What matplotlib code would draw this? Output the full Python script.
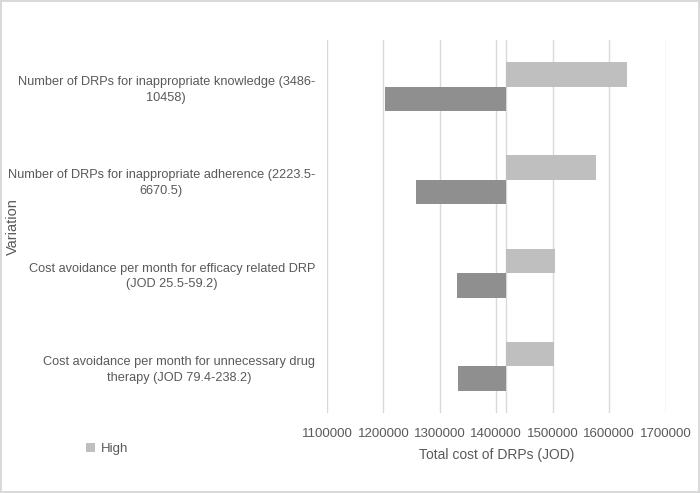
import matplotlib.pyplot as plt

# Tornado chart data (JOD)
categories = [
    "Number of DRPs for inappropriate knowledge (3486-\n10458)",
    "Number of DRPs for inappropriate adherence (2223.5-\n6670.5)",
    "Cost avoidance per month for efficacy related DRP\n(JOD 25.5-59.2)",
    "Cost avoidance per month for unnecessary drug\ntherapy (JOD 79.4-238.2)",
]
high = [1632000, 1577000, 1504000, 1502000]
low = [1203000, 1258000, 1331000, 1333000]
base = 1417000
xticks = [1100000, 1200000, 1300000, 1400000, 1500000, 1600000, 1700000]

plt.rcParams['font.family'] = ['Liberation Sans', 'DejaVu Sans']
text_color = '#595959'

fig = plt.figure(figsize=(7, 4.93), dpi=100)
fig.patch.set_edgecolor('#D9D9D9')
fig.patch.set_linewidth(1.5)
ax = fig.add_axes([0.467, 0.162, 0.484, 0.757])

ypos = list(range(len(categories)))
h = 0.263
ax.barh([y - h / 2 for y in ypos], [v - base for v in high], left=base,
        height=h, color='#BFBFBF', label='High', zorder=3)
ax.barh([y + h / 2 for y in ypos], [base - v for v in low], left=low,
        height=h, color='#8F8F8F', zorder=3)
ax.axvline(base, color='#D9D9D9', linewidth=1, zorder=2)

ax.set_xlim(1100000, 1700000)
ax.set_ylim(3.5, -0.5)
ax.set_xticks(xticks)
ax.set_xticklabels([str(t) for t in xticks])
ax.set_yticks(ypos)
ax.set_yticklabels(categories, multialignment='center', linespacing=1.4,
                   fontsize=9.2)
ax.grid(axis='x', color='#D9D9D9', linewidth=1, zorder=0)
ax.set_axisbelow(True)
for s in ax.spines.values():
    s.set_visible(False)
ax.tick_params(axis='both', length=0, colors=text_color)
ax.tick_params(axis='x', labelsize=9.5, pad=11)
ax.tick_params(axis='y', pad=8.6)

ax.set_xlabel('Total cost of DRPs (JOD)', color=text_color, fontsize=10, labelpad=5.5)
fig.text(0.018, 0.54, 'Variation', rotation=90, color=text_color,
         fontsize=10.5, ha='center', va='center')

leg = fig.legend(handles=[ax.patches[0]], labels=['High'], loc='center left',
                 bbox_to_anchor=(0.106, 0.089), frameon=False, fontsize=9.5,
                 handlelength=0.7, handleheight=0.7, handletextpad=0.4)
for t in leg.get_texts():
    t.set_color(text_color)

fig.savefig('out.png', dpi=100)
